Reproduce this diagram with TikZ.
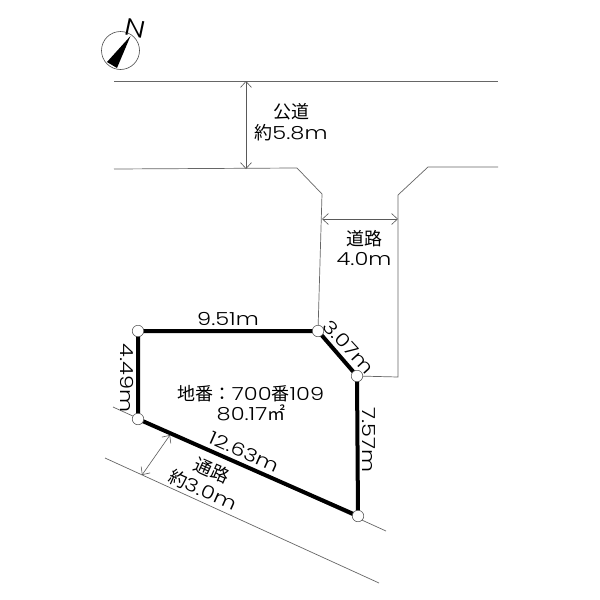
\documentclass[tikz,border=0pt]{standalone}
\usepackage{fontspec}
\setmainfont[FakeStretch=1.25]{Poppins Light}
\newfontfamily\cjk{Noto Sans CJK JP}
\usetikzlibrary{arrows.meta}
\tikzset{
 thinline/.style={draw=black!60,line width=0.7pt},
 dim/.style={draw=black!65,line width=0.6pt,{Straight Barb[length=6pt,width=11pt]}-{Straight Barb[length=6pt,width=11pt]}},
 lot/.style={draw=black,line width=4pt},
 pin/.style={circle,draw=black!70,fill=white,line width=0.5pt,minimum size=11.5pt,inner sep=0pt},
 lab/.style={inner sep=0pt,font=\fontsize{18}{20.5}\selectfont,align=center,text=black},
}
\newcommand{\ja}[1]{{\cjk #1}}
\begin{document}
\begin{tikzpicture}[x=1pt,y=-1pt]
\useasboundingbox (0,0) rectangle (600,600);
\fill[white] (0,0) rectangle (600,600);
% named points
\coordinate (r1a) at (114,81); \coordinate (r1b) at (498,81);
\coordinate (r2a) at (114,169); \coordinate (r2b) at (297,168); \coordinate (r2c) at (322,194);
\coordinate (r3a) at (498,167); \coordinate (r3b) at (428,167); \coordinate (r3c) at (398,195); \coordinate (r3d) at (398,377);
\coordinate (b1a) at (113,407); \coordinate (b1b) at (386,531);
\coordinate (b2a) at (105,458); \coordinate (b2b) at (379,583);
\coordinate (d1a) at (246,81); \coordinate (d1b) at (246,169);
\coordinate (d2a) at (322,219); \coordinate (d2b) at (398,219);
\coordinate (d3a) at (170,435); \coordinate (d3b) at (142,475);
\node[pin,draw=none,fill=none] (A) at (138,331) {};
\node[pin,draw=none,fill=none] (B) at (318,331) {};
\node[pin,draw=none,fill=none] (C) at (357,376) {};
\node[pin,draw=none,fill=none] (D) at (358,516) {};
\node[pin,draw=none,fill=none] (E) at (138,419) {};
% roads
\draw[thinline] (r1a) -- (r1b);
\draw[thinline] (r2a) -- (r2b) -- (r2c) -- (B.center);
\draw[thinline] (r3a) -- (r3b) -- (r3c) -- (r3d) -- (C.center);
\draw[thinline] (b1a) -- (b1b);
\draw[thinline] (b2a) -- (b2b);
% dimensions
\draw[dim] (d1a) -- (d1b);
\draw[dim] (d2a) -- (d2b);
\draw[dim] (d3a) -- (d3b);
% lot
\draw[lot,line join=miter] (A.center) -- (B.center) -- (C.center) -- (D.center) -- (E.center) -- cycle;
\node[pin] at (A) {}; \node[pin] at (B) {}; \node[pin] at (C) {}; \node[pin] at (D) {}; \node[pin] at (E) {};
% labels
\node[lab] (l1) at (291,122) {\ja{公道}\\\ja{約}5.8m};
\node[lab] (l2) at (364,248) {\ja{道路}\\4.0m};
\node[lab,anchor=base] (l3) at (228,325) {9.51m};
\node[lab,rotate=-90] (l4) at (127,378) {4.49m};
\node[lab,rotate=-90] (l5) at (369,440) {7.57m};
\node[lab,rotate=-47.5] (l6) at (349,347) {3.07m};
\node[lab,rotate=-24] (l7) at (244,452) {12.63m};
\node[lab] (l8) at (251,403) {\ja{地番：}700\ja{番}109\\80.17\ja{㎡}};
\node[lab,rotate=-24] (l9) at (207.5,480) {\ja{通路}\\[1pt]\ja{約}3.0m};
% compass
\node[circle,draw=black!70,line width=0.6pt,minimum size=38pt,inner sep=0pt] (cmp) at (120.5,50.5) {};
\fill[black] (130.5,36) -- (107,62) -- (117,68) -- cycle;
\node[inner sep=0pt,rotate=-12,font=\fontsize{24}{24}\selectfont] (nn) at (135,28) {N};
\end{tikzpicture}
\end{document}
